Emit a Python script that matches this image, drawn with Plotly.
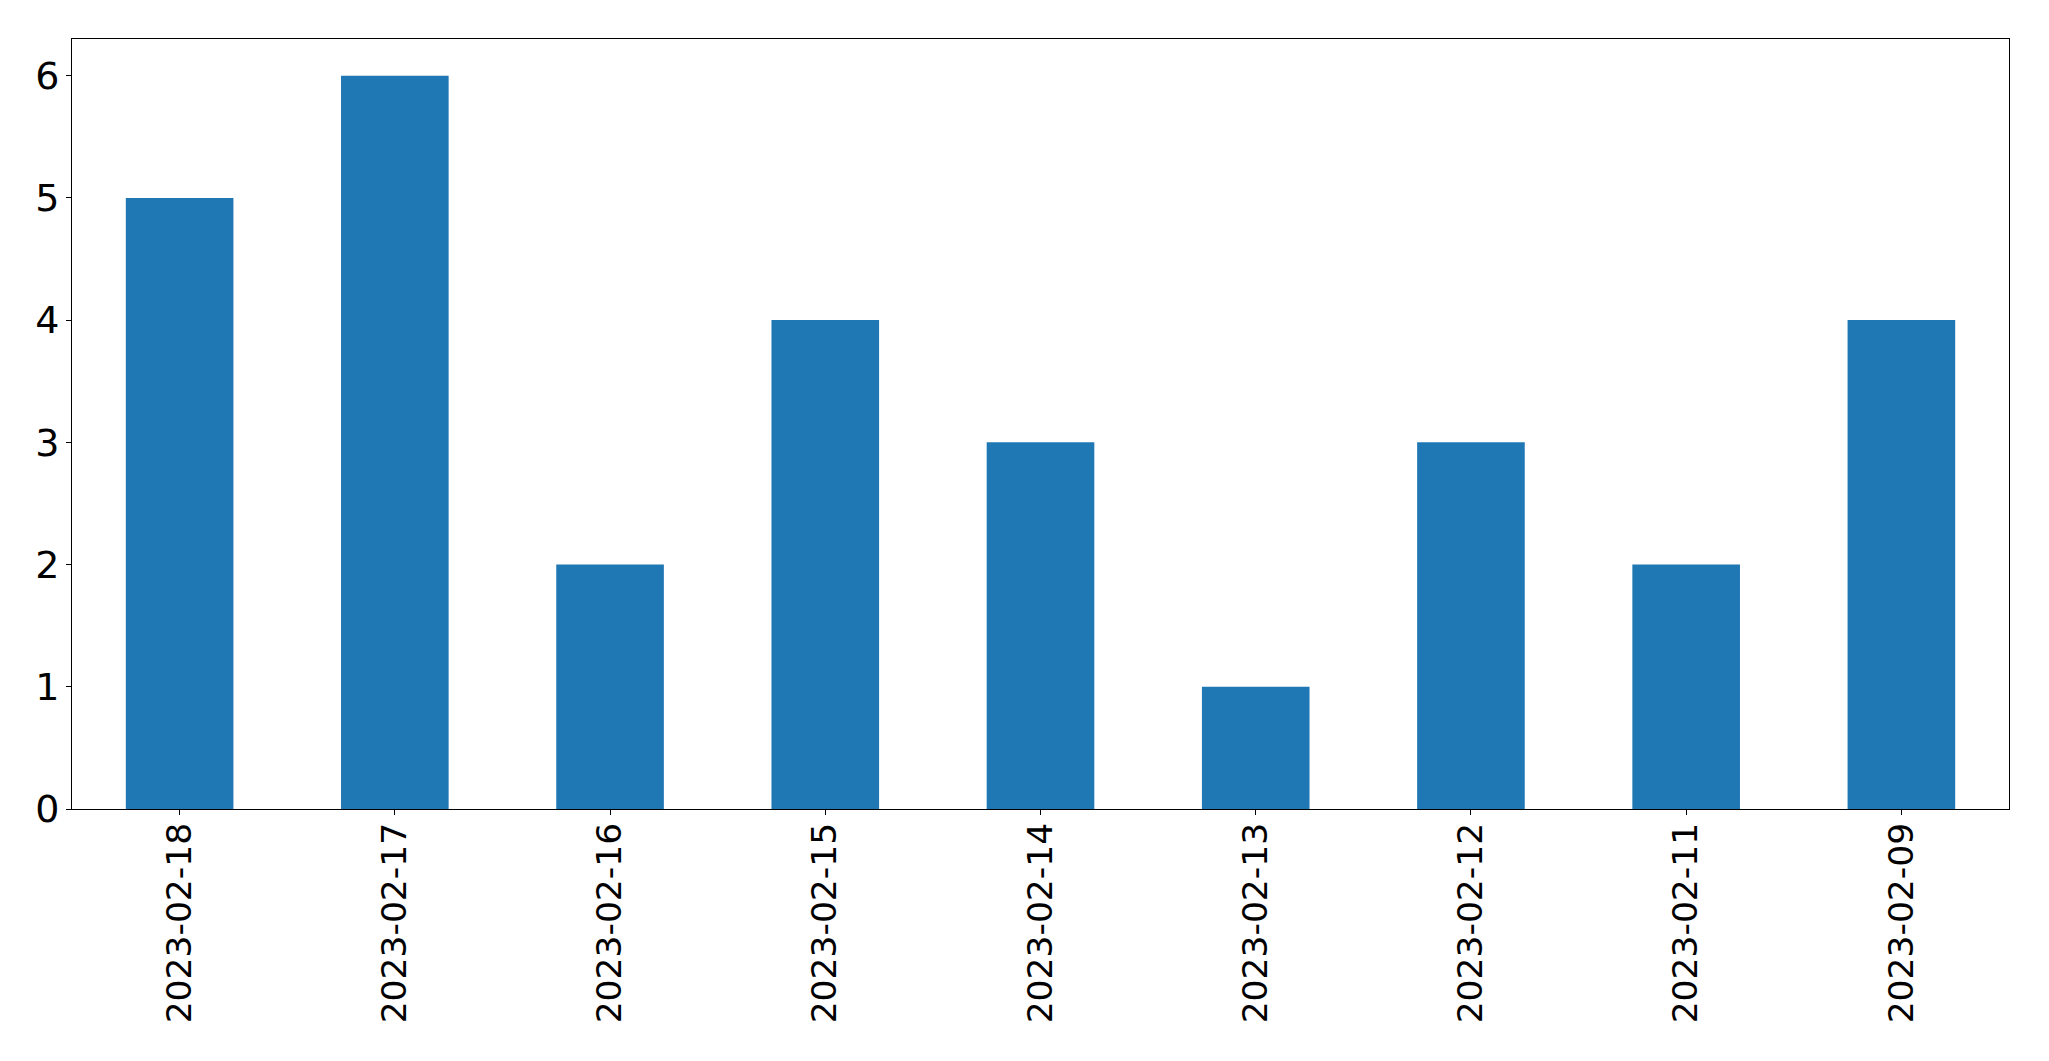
import plotly.graph_objects as go

dates = ["2023-02-18", "2023-02-17", "2023-02-16", "2023-02-15", "2023-02-14",
         "2023-02-13", "2023-02-12", "2023-02-11", "2023-02-09"]
counts = [5, 6, 2, 4, 3, 1, 3, 2, 4]
y_ticks = [0, 1, 2, 3, 4, 5, 6]

fig = go.Figure(go.Bar(x=dates, y=counts, marker=dict(color="#1f77b4", line=dict(width=0)), width=0.5))

fig.update_layout(
    width=2049, height=1061,
    margin=dict(l=64, r=48, t=31, b=260),
    paper_bgcolor="white", plot_bgcolor="white",
    showlegend=False,
    font=dict(family="DejaVu Sans", size=36, color="black"),
)
fig.update_xaxes(
    type="category", range=[-0.5, 8.5], tickangle=-90,
    tickfont=dict(size=34.5),
    showline=True, linecolor="black", linewidth=1.1, mirror=True,
    ticks="outside", ticklen=5, tickcolor="black", tickwidth=1.1,
    showgrid=False, ticklabelstandoff=-6,
)
fig.update_yaxes(
    range=[0, 6.3], tickvals=y_ticks,
    tickfont=dict(size=38),
    showline=True, linecolor="black", linewidth=1.1, mirror=True,
    ticks="outside", ticklen=5, tickcolor="black", tickwidth=1.1,
    showgrid=False, zeroline=False, ticklabelstandoff=-1,
)
fig.write_html("out.html")
